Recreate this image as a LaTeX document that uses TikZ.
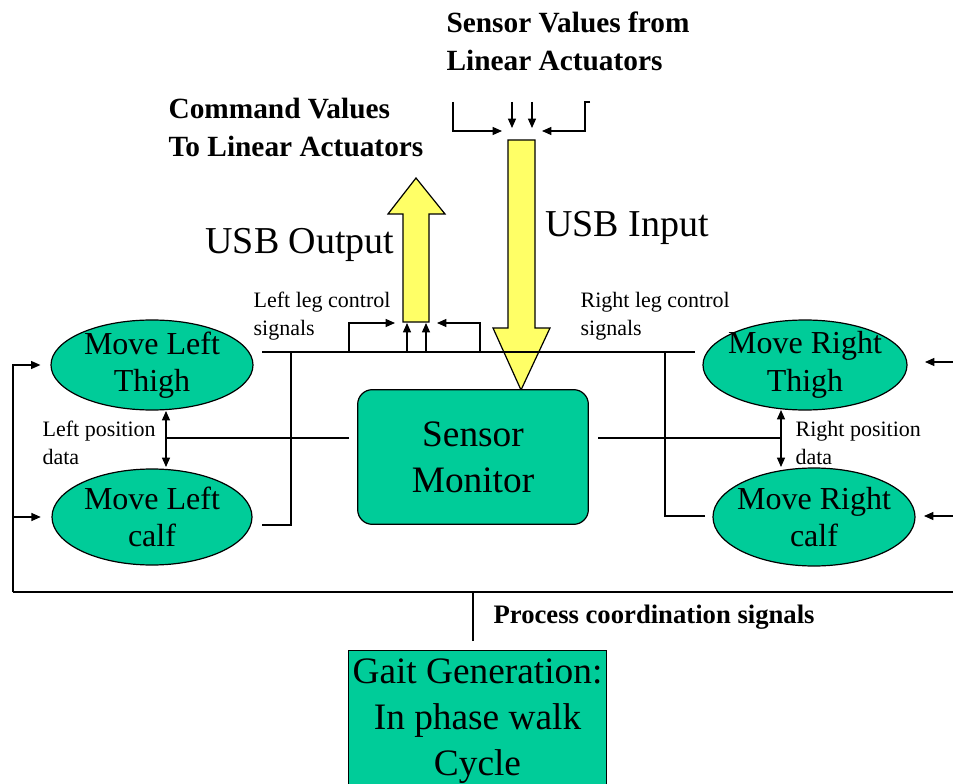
\documentclass[tikz,border=0pt]{standalone}
\usepackage{fontspec}
\setmainfont{Liberation Serif}
\usetikzlibrary{shapes.geometric,arrows.meta}

\definecolor{verde}{RGB}{0,204,153}
\definecolor{amarillo}{RGB}{255,255,102}

\begin{document}
\begin{tikzpicture}[x=0.75pt,y=-0.75pt,line width=0.9pt,
  flecha/.style={-{Triangle[length=7pt,width=6pt]}},
  doble/.style={{Triangle[length=7pt,width=6pt]}-{Triangle[length=7pt,width=6pt]}},
  pierna/.style={ellipse,draw,fill=verde,inner sep=-6pt,align=center,font=\fontsize{24}{28}\selectfont},
  caja/.style={draw,fill=verde,align=center,font=\fontsize{28}{34.5}\selectfont},
  usb/.style={draw,fill=amarillo,line join=miter},
  etiq/.style={inner sep=0pt,align=left,anchor=west,font=\fontsize{16.5}{21}\selectfont},
  titulo/.style={inner sep=0pt,align=left,anchor=west,font=\fontsize{22}{28.5}\selectfont\bfseries}]
\useasboundingbox (0,0) rectangle (953,784);
% flechas USB (salida y entrada)
\draw[usb] (403,322) -- (403,214) -- (388,214) -- (416,178) -- (445,214) -- (429,214) -- (429,322) -- cycle;
\draw[usb] (508,140) -- (535,140) -- (535,328) -- (550,328) -- (521,390) -- (493,328) -- (508,328) -- cycle;

\node[pierna, minimum width=151.5pt, minimum height=67.5pt] (lthigh) at (152,365) {Move Left\\Thigh};
\node[pierna, minimum width=150pt, minimum height=72pt] (lcalf) at (152,517) {Move Left\\calf};
\node[pierna, minimum width=153pt, minimum height=67.5pt] (rthigh) at (805,365) {Move Right\\Thigh};
\node[pierna, minimum width=151.5pt, minimum height=73.5pt] (rcalf) at (814,517) {Move Right\\calf};
\node[caja, rounded corners=11pt, minimum width=173pt, minimum height=101pt] (monitor) at (473,457) {Sensor\\Monitor};
\node[caja, inner sep=0pt, anchor=north, minimum width=194pt, minimum height=106pt] (gait) at (477.5,650) {Gait Generation:\\In phase walk\\Cycle};

\node[titulo] (senslbl) at (446,41) {Sensor Values from\\Linear Actuators};
\node[titulo] (cmdlbl) at (168,127.5) {Command Values\\To Linear Actuators};
\node[font=\fontsize{28.5}{34}\selectfont, inner sep=0pt] (usbout) at (300,245) {USB Output};
\node[font=\fontsize{28.5}{34}\selectfont, inner sep=0pt] (usbin) at (627,228) {USB Input};
\node[etiq] (lleglbl) at (253,316) {Left leg control\\signals};
\node[etiq] (rleglbl) at (580,316) {Right leg control\\signals};
\node[etiq] (lposlbl) at (42,443) {Left position\\data};
\node[etiq] (rposlbl) at (795,443) {Right position\\data};
\node[titulo, font=\fontsize{20}{24}\selectfont\bfseries] (proclbl) at (493,617) {Process coordination signals};

% valores de los sensores hacia la entrada USB
\coordinate (inL) at (502,131);
\coordinate (inR) at (542,131);
\draw[flecha] (453,102) |- (inL);
\draw[flecha] (590,102) -- (585,102) |- (inR);
\foreach \x [count=\i] in {512,532} {
  \coordinate (dn\i) at (\x,102);
  \draw[flecha] (dn\i) -- (\x,128);
}

% bus de control de las piernas
\coordinate (busL) at (262,352);
\coordinate (busR) at (695,352);
\coordinate (lbus) at (291,352);
\coordinate (rbus) at (665,352);
\draw (busL) -- (busR);
\draw (262,525) -| (lbus);
\draw (705,516) -| (rbus);
\coordinate (outL) at (395,323);
\coordinate (outR) at (437,323);
\draw[flecha] (349,352) |- (outL);
\draw[flecha] (480,352) |- (outR);
\foreach \x [count=\i] in {407,426} {
  \coordinate (up\i) at (\x,352);
  \draw[flecha] (up\i) -- (up\i |- outL);
}

% datos de posicion
\coordinate (lpos) at (166,438);
\coordinate (rpos) at (781,438);
\draw (349,438) -- (lpos);
\draw (598,438) -- (rpos);
\draw[doble] (lpos |- 0,411) -- (lpos |- 0,467);
\draw[doble] (rpos |- 0,410) -- (rpos |- 0,467);

% senales de coordinacion
\coordinate (retL) at (13,592);
\coordinate (retR) at (953,592);
\coordinate (coord) at (473,592);
\draw (coord |- 0,641) -- (coord);
\draw (retR) -- (retL);
\draw[flecha] (retL) |- ([xshift=-7.5pt]lthigh.west);
\draw[flecha] (retL) |- ([xshift=-8pt]lcalf.west);
\draw[flecha] (953,362) -- (925,362);
\draw[flecha] (953,516) -- (924,516);
\end{tikzpicture}
\end{document}
